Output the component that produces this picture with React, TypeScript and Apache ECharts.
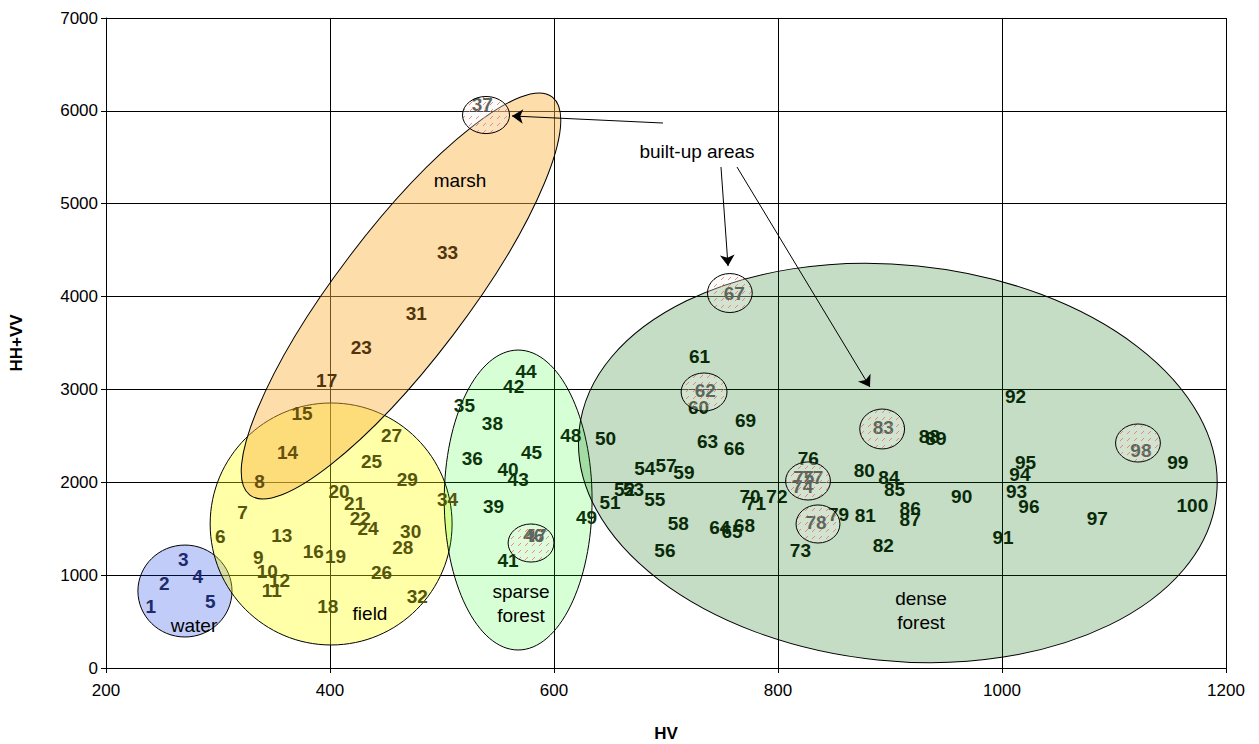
import { useEffect, useRef } from "react";
import * as echarts from "echarts";

// HV (x) and HH+VV (y) of test sites 1..100
const hv = [
  240, 252, 269, 282, 293, 302, 322, 337, 336, 344,
  348, 355, 357, 362, 375, 385, 397, 398, 405, 408,
  422, 427, 428, 434, 437, 446, 455, 465, 469, 472,
  477, 478, 505, 505, 520, 527, 536, 545, 546, 559,
  559, 564, 568, 575, 580, 582, 584, 615, 629, 646,
  650, 663, 671, 681, 690, 699, 700, 711, 716, 729,
  730, 735, 737, 748, 759, 761, 761, 770, 771, 775,
  780, 799, 820, 822, 823, 827, 831, 834, 854, 877,
  878, 894, 894, 899, 904, 918, 918, 935, 941, 964,
  1001, 1012, 1013, 1016, 1021, 1024, 1085, 1124, 1157, 1170,
];
const hhvv = [
  667, 915, 1173, 990, 721, 1421, 1679, 2013, 1195, 1044,
  840, 947, 1432, 2325, 2745, 1259, 3100, 657, 1206, 1905,
  1776, 1615, 3455, 1507, 2228, 1033, 2508, 1302, 2034, 1475,
  3821, 775, 4478, 1819, 2831, 2261, 6071, 2637, 1744, 2142,
  1163, 3036, 2034, 3197, 2325, 1432, 1432, 2508, 1625, 2476,
  1787, 1927, 1927, 2153, 1819, 1270, 2186, 1561, 2110, 2810,
  3358, 2993, 2444, 1508, 1465, 2368, 4037, 1540, 2670, 1851,
  1776, 1851, 1270, 1959, 2056, 2261, 2056, 1572, 1658, 2131,
  1647, 1324, 2595, 2056, 1927, 1722, 1604, 2497, 2476, 1851,
  1410, 2928, 1905, 2088, 2217, 1744, 1615, 2347, 2217, 1755,
];

const waterIds = [1, 2, 3, 4, 5];
const fieldIds = [6, 7, 9, 10, 11, 12, 13, 16, 18, 19, 20, 21, 22, 24, 25, 26, 27, 28, 29, 30, 32, 34];
const fieldMarshIds = [8, 14, 15];
const marshIds = [17, 23, 31, 33];
const sparseIds = [35, 36, 38, 39, 40, 41, 42, 43, 44, 45, 48, 49];
const denseIds = [
  50, 51, 52, 53, 54, 55, 56, 57, 58, 59, 60, 61, 63, 64, 65, 66, 68, 69, 70, 71, 72, 73, 76,
  79, 80, 81, 82, 84, 85, 86, 87, 88, 89, 90, 91, 92, 93, 94, 95, 96, 97, 99, 100,
];
const builtUpIds = [37, 46, 47, 62, 67, 74, 75, 77, 78, 83, 98];

// land-cover regions (centre, half-widths in axis units, tilt in degrees)
const regionNames = ["water", "field", "marsh", "sparse\nforest", "dense\nforest"];
const regionCx = [270.5, 401, 463.4, 568, 907];
const regionCy = [829, 1551, 4006, 1809, 2208];
const regionRx = [42, 108, 223, 66, 286];
const regionRy = [495, 1303, 700, 1615, 2132];
const regionTilt = [0, 0, 52.8, 0, -5.8];
const regionLabelX = [278.6, 435.7, 516.1, 570.5, 927.7];
const regionLabelY = [463, 582, 5245, 700, 614];

// built-up areas
const builtCx = [539.3, 757, 734, 579.5, 826.8, 835.7, 893, 1121.4];
const builtCy = [5955, 4038, 2972, 1346, 2014, 1551, 2574, 2423];
const builtRx = [21, 20, 20.5, 20.5, 20, 19.6, 20, 20];
const builtRy = [200, 210, 205, 205, 205, 205, 215, 205];

const calloutText = "built-up areas";
const calloutX = 727.7;
const calloutY = 5562;
const arrowFromX = [697.3, 749.1, 763.4];
const arrowFromY = [5869, 5395, 5395];
const arrowToX = [562.5, 755.4, 882.1];
const arrowToY = [5945, 4329, 3026];

const FONT = "'Liberation Sans', Arial, Helvetica, sans-serif";
const regionFills = [
  "rgba(0,40,230,0.24)",
  "rgba(255,255,0,0.34)",
  "rgba(250,179,66,0.45)",
  "rgba(0,255,0,0.16)",
  "rgba(0,110,0,0.23)",
];

function labelSeries(ids: number[], color: string, weight: string, z: number) {
  return {
    type: "scatter",
    z,
    symbol: "circle",
    symbolSize: 1,
    itemStyle: { color: "rgba(0,0,0,0)", opacity: 1 },
    silent: true,
    data: ids.map((id) => [hv[id - 1], hhvv[id - 1], id]),
    label: {
      show: true,
      position: "inside",
      formatter: (p: any) => String(p.value[2]),
      color,
      opacity: 1,
      fontFamily: FONT,
      fontWeight: weight,
      fontSize: 19,
    },
    emphasis: { disabled: true },
  };
}

export default function App() {
  const ref = useRef<HTMLDivElement>(null);
  useEffect(() => {
    if (!ref.current) return;
    const chart = echarts.init(ref.current, undefined, { renderer: "svg" });

    const cv = document.createElement("canvas");
    cv.width = 7;
    cv.height = 7;
    const ctx = cv.getContext("2d")!;
    ctx.fillStyle = "rgba(242,242,236,0.3)";
    ctx.fillRect(0, 0, 7, 7);
    ctx.strokeStyle = "rgba(236,110,110,0.8)";
    ctx.lineWidth = 1;
    ctx.beginPath();
    ctx.moveTo(0, 7);
    ctx.lineTo(3, 4);
    ctx.stroke();
    const hatch = { image: cv, repeat: "repeat" };

    const option: any = {
      animation: false,
      backgroundColor: "#fff",
      grid: { left: 106, right: 33, top: 18, bottom: 76, outerBoundsMode: "none", containLabel: false },
      xAxis: {
        type: "value",
        min: 200,
        max: 1200,
        interval: 200,
        name: "HV",
        nameLocation: "middle",
        nameGap: 57,
        nameTextStyle: { fontFamily: FONT, fontWeight: "bold", fontSize: 17, color: "#000" },
        axisLine: { show: true, onZero: false, lineStyle: { color: "#000", width: 1 } },
        axisTick: { show: true, length: 5, lineStyle: { color: "#000" } },
        axisLabel: { fontFamily: FONT, fontSize: 17, color: "#000", margin: 14, formatter: (v: number) => String(v) },
        splitLine: { show: true, lineStyle: { color: "#000", width: 1 } },
      },
      yAxis: {
        type: "value",
        min: 0,
        max: 7000,
        interval: 1000,
        name: "HH+VV",
        nameLocation: "middle",
        nameGap: 81,
        nameTextStyle: { fontFamily: FONT, fontWeight: "bold", fontSize: 17, color: "#000" },
        axisLine: { show: true, lineStyle: { color: "#000", width: 1 } },
        axisTick: { show: true, length: 5, lineStyle: { color: "#000" } },
        axisLabel: { fontFamily: FONT, fontSize: 17, color: "#000", margin: 8, formatter: (v: number) => String(v) },
        splitLine: { show: true, lineStyle: { color: "#000", width: 1 } },
      },
      series: [
        {
          type: "custom",
          z: 1,
          silent: true,
          clip: false,
          encode: { x: 0, y: 1 },
          data: regionCx.map((cx, i) => [cx, regionCy[i], regionRx[i], regionRy[i], regionTilt[i]]),
          renderItem: (params: any, api: any) => {
            const c = api.coord([api.value(0), api.value(1)]);
            const s = api.size([api.value(2), api.value(3)]);
            return {
              type: "ellipse",
              x: c[0],
              y: c[1],
              rotation: (api.value(4) * Math.PI) / 180,
              shape: { cx: 0, cy: 0, rx: s[0], ry: s[1] },
              style: { fill: regionFills[params.dataIndex], stroke: "#000", lineWidth: 1 },
            };
          },
        },
        labelSeries(waterIds, "#1c2b6b", "bold", 3),
        labelSeries(fieldIds, "#55550c", "bold", 3),
        labelSeries(fieldMarshIds, "#66500e", "bold", 3),
        labelSeries(marshIds, "#52340a", "bold", 3),
        labelSeries(sparseIds, "#0b360b", "bold", 3),
        labelSeries(denseIds, "#082a08", "bold", 3),
        labelSeries(builtUpIds, "#1a2a1e", "bold", 3),
        {
          type: "custom",
          z: 4,
          silent: true,
          clip: false,
          encode: { x: 0, y: 1 },
          data: builtCx.map((cx, i) => [cx, builtCy[i], builtRx[i], builtRy[i]]),
          renderItem: (params: any, api: any) => {
            const c = api.coord([api.value(0), api.value(1)]);
            const s = api.size([api.value(2), api.value(3)]);
            return {
              type: "ellipse",
              shape: { cx: c[0], cy: c[1], rx: s[0], ry: s[1] },
              style: { fill: hatch, stroke: "#000", lineWidth: 1 },
            };
          },
        },
        {
          type: "scatter",
          z: 5,
          symbolSize: 1,
          silent: true,
          itemStyle: { color: "rgba(0,0,0,0)", opacity: 1 },
          data: [
            ...regionNames.map((n, i) => [regionLabelX[i], regionLabelY[i], n]),
            [calloutX, calloutY, calloutText],
          ],
          label: {
            show: true,
            position: "inside",
            formatter: (p: any) => p.value[2],
            color: "#000",
            fontFamily: FONT,
            fontSize: 19,
            lineHeight: 24,
          },
          emphasis: { disabled: true },
          markLine: {
            silent: true,
            symbol: ["none", "arrow"],
            symbolSize: 11,
            label: { show: false },
            lineStyle: { color: "#000", width: 1, type: "solid" },
            emphasis: { disabled: true },
            data: arrowFromX.map((x, i) => [
              { coord: [x, arrowFromY[i]] },
              { coord: [arrowToX[i], arrowToY[i]] },
            ]),
          },
        },
      ],
    };
    chart.setOption(option);
    return () => chart.dispose();
  }, []);
  return (
    <div
      ref={ref}
      style={{ position: "absolute", left: 0, top: 0, width: 1259, height: 744, background: "#fff" }}
    />
  );
}
